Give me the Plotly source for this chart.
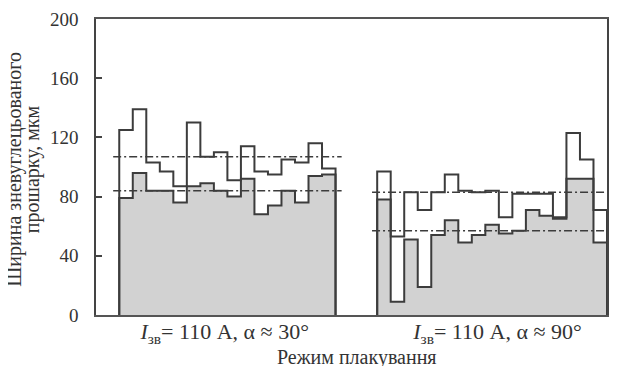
import plotly.graph_objects as go

# ---- data ----
group_labels = ["<i>I</i><sub>зв</sub>= 110 А, α ≈ 30°", "<i>I</i><sub>зв</sub>= 110 А, α ≈ 90°"]
x_title = "Режим плакування"
y_title_lines = ["Ширина зневуглецьованого", "прошарку, мкм"]

g1_upper = [125, 139, 103, 97, 87, 130, 107, 110, 91, 114, 97, 95, 105, 103, 116, 99]
g1_lower = [79, 96, 84, 84, 76, 87, 89, 84, 80, 92, 68, 74, 84, 76, 94, 95]
g1_mean_upper = 107
g1_mean_lower = 84

g2_upper = [97, 53, 83, 71, 83, 95, 84, 83, 84, 66, 82, 82, 82, 66, 123, 105, 71]
g2_lower = [78, 9, 51, 19, 54, 64, 49, 54, 61, 55, 57, 71, 67, 65, 92, 92, 49]
g2_mean_upper = 83
g2_mean_lower = 57

y_ticks = [0, 40, 80, 120, 160, 200]

# ---- layout helpers (positions in bin units) ----
G1_START = 1.72
G2_START = 20.8
X_MAX = 37.8
LINE = "#3c3c3c"
FILL = "#d2d2d2"
FONT = "Liberation Serif"
TXT = "#333333"


def step_xy(start, values):
    n = len(values)
    xs = [start] + [start + i for i in range(n + 1)] + [start + n]
    ys = [0] + list(values) + [values[-1], 0]
    return xs, ys


fig = go.Figure()

for start, upper, lower in [(G1_START, g1_upper, g1_lower), (G2_START, g2_upper, g2_lower)]:
    xl, yl = step_xy(start, lower)
    fig.add_trace(go.Scatter(x=xl, y=yl, mode="lines", line_shape="hv",
                             line=dict(color=LINE, width=2), fill="tozeroy",
                             fillcolor=FILL, showlegend=False, hoverinfo="skip"))
    xu, yu = step_xy(start, upper)
    fig.add_trace(go.Scatter(x=xu, y=yu, mode="lines", line_shape="hv",
                             line=dict(color=LINE, width=2),
                             showlegend=False, hoverinfo="skip"))

# dash-dot mean lines
for x0, x1, vals in [(G1_START - 0.45, G1_START + len(g1_upper) + 0.45, [g1_mean_upper, g1_mean_lower]),
                     (G2_START - 0.38, X_MAX, [g2_mean_upper, g2_mean_lower])]:
    for v in vals:
        fig.add_trace(go.Scatter(x=[x0, x1], y=[v, v], mode="lines",
                                 line=dict(color=LINE, width=1.5, dash="8px,3px,2px,3px"),
                                 showlegend=False, hoverinfo="skip"))

# the page body has an 8px default margin: size the figure so it fits the window
fig.update_layout(
    width=618, height=358,
    margin=dict(l=88, r=19, t=11, b=51, autoexpand=False),
    paper_bgcolor="white", plot_bgcolor="white",
    font=dict(family=FONT, size=19, color=TXT),
    xaxis=dict(range=[0, X_MAX], showgrid=False, zeroline=False, automargin=False,
               showline=True, linecolor="#555555", linewidth=2, mirror=True,
               tickmode="array",
               tickvals=[G1_START + len(g1_upper) / 2 - 0.2, G2_START + len(g2_upper) / 2 + 0.4],
               ticktext=group_labels, ticks="", ticklabelstandoff=-4,
               tickfont=dict(family=FONT, size=22, color=TXT)),
    yaxis=dict(range=[0, 200], showgrid=False, zeroline=False, automargin=False,
               showline=True, linecolor="#444444", linewidth=1.5, mirror=True,
               tickmode="array", tickvals=y_ticks, ticks="inside", ticklen=6,
               tickcolor="#444444", tickwidth=1.5, ticklabelstandoff=12,
               tickfont=dict(family=FONT, size=19, color=TXT)),
    annotations=[
        dict(text=x_title, xref="paper", yref="paper", x=0.51, y=-0.143,
             xanchor="center", yanchor="middle", showarrow=False,
             font=dict(family=FONT, size=20, color=TXT)),
        dict(text=y_title_lines[0], xref="paper", yref="paper", x=-0.161, y=0.493,
             xanchor="center", yanchor="middle", textangle=-90, showarrow=False,
             font=dict(family=FONT, size=20, color=TXT)),
        dict(text=y_title_lines[1], xref="paper", yref="paper", x=-0.125, y=0.493,
             xanchor="center", yanchor="middle", textangle=-90, showarrow=False,
             font=dict(family=FONT, size=20, color=TXT)),
    ],
)

fig.write_html("out.html")
